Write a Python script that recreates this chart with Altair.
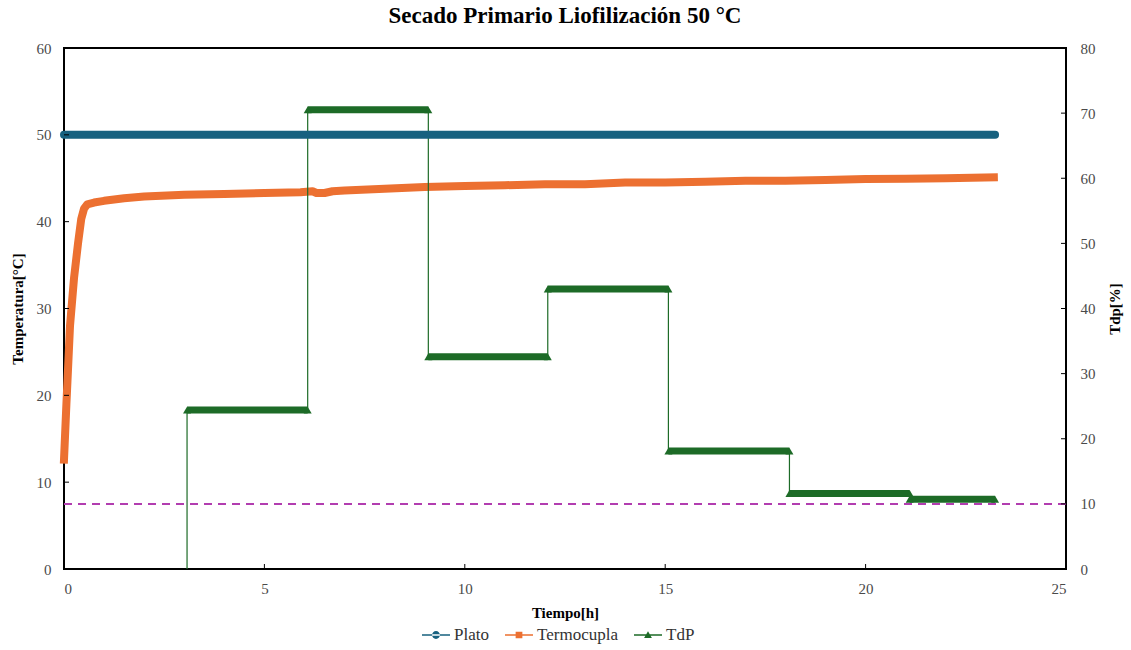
import altair as alt
import pandas as pd

# ---------------- data ----------------
series = ["Plato", "Termocupla", "TdP"]
colors = ["#17617F", "#EC7031", "#1D6B27"]

plato_t = [0.0, 23.23]
plato_v = [50.0, 50.0]

termo_t = [0.0, 0.06, 0.15, 0.25, 0.35, 0.43, 0.50, 0.58, 0.75, 1.0, 1.5, 2.0, 3.0, 4.0, 5.0,
           5.9, 6.2, 6.3, 6.5, 6.7, 7.0, 8.0, 9.0, 10.0, 11.0, 12.0, 13.0, 14.0, 15.0, 16.0,
           17.0, 18.0, 19.0, 20.0, 21.0, 22.0, 23.2]
termo_v = [12.6, 19.0, 28.0, 33.5, 37.5, 40.3, 41.5, 42.0, 42.2, 42.4, 42.7, 42.9, 43.1, 43.2, 43.3,
           43.4, 43.5, 43.3, 43.3, 43.5, 43.6, 43.8, 44.0, 44.1, 44.2, 44.3, 44.3, 44.5, 44.5, 44.6,
           44.7, 44.7, 44.8, 44.9, 44.95, 45.0, 45.1]

tdp_base = 0.0
tdp_start = [3.07, 6.08, 9.09, 12.07, 15.08, 18.10, 21.10]
tdp_end = [6.08, 9.09, 12.07, 15.08, 18.10, 21.10, 23.23]
tdp_val = [24.4, 70.5, 32.6, 43.0, 18.1, 11.6, 10.7]

tdp_limit = 10.0

x_ticks = [0, 5, 10, 15, 20, 25]
left_ticks = [0, 10, 20, 30, 40, 50, 60]
right_ticks = [0, 10, 20, 30, 40, 50, 60, 70, 80]

# ---------------- tables ----------------
plato_df = pd.DataFrame({"t": plato_t, "v": plato_v})
termo_df = pd.DataFrame({"t": termo_t, "v": termo_v})
seg_df = pd.DataFrame({"t": tdp_start, "t2": tdp_end, "v": tdp_val})

path_t, path_v = [tdp_start[0]], [tdp_base]
for s, e, v in zip(tdp_start, tdp_end, tdp_val):
    path_t += [s, e]
    path_v += [v, v]
path_df = pd.DataFrame({"t": path_t, "v": path_v, "o": list(range(len(path_t)))})
ends_df = pd.DataFrame({"t": tdp_start + tdp_end, "v": tdp_val + tdp_val})
limit_df = pd.DataFrame({"v": [tdp_limit]})
legend_df = pd.DataFrame({"series": series,
                          "t": [plato_t[0], termo_t[0], tdp_start[0]],
                          "v": [plato_v[0], termo_v[0], tdp_base]})
lt_df = pd.DataFrame({"v": left_ticks})
rt_df = pd.DataFrame({"v": right_ticks})
xt_df = pd.DataFrame({"t": x_ticks})

# ---------------- style ----------------
FONT = "Liberation Serif"
W, H = 1002, 521
LABEL_COLOR = "#4a4a4a"

xscale = alt.Scale(domain=[0, 25], nice=False, zero=False)
lscale = alt.Scale(domain=[0, 60], nice=False)
rscale = alt.Scale(domain=[0, 80], nice=False)

xaxis = alt.Axis(title="Tiempo[h]", values=x_ticks, tickSize=0, domain=False, grid=False,
                 labelFont=FONT, labelFontSize=15, labelColor=LABEL_COLOR, labelPadding=12,
                 titleFont=FONT, titleFontSize=15, titleFontWeight="bold", titleColor="black",
                 titlePadding=9)
laxis = alt.Axis(title="Temperatura[°C]", orient="left", values=left_ticks, tickSize=0,
                 domain=False, grid=False, labelFont=FONT, labelFontSize=15,
                 labelColor=LABEL_COLOR, labelPadding=13, titleFont=FONT, titleFontSize=15,
                 titleFontWeight="bold", titleColor="black", titlePadding=11)
raxis = alt.Axis(title="Tdp[%]", orient="right", values=right_ticks, tickSize=0,
                 domain=False, grid=False, labelFont=FONT, labelFontSize=15,
                 labelColor=LABEL_COLOR, labelPadding=14, titleFont=FONT, titleFontSize=15,
                 titleFontWeight="bold", titleColor="black", titlePadding=27, titleAngle=270)


def X(field="t"):
    return alt.X(f"{field}:Q", scale=xscale, axis=xaxis)


def YL(axis=None):
    return alt.Y("v:Q", scale=lscale, axis=axis)


def YR(axis=None):
    return alt.Y("v:Q", scale=rscale, axis=axis)


termo = alt.Chart(termo_df).mark_line(color=colors[1], strokeWidth=8, strokeCap="square",
                                      strokeJoin="round").encode(x=X(), y=YL(laxis))

tdp_thin = alt.Chart(path_df).mark_line(color=colors[2], strokeWidth=1.2).encode(
    x=X(), y=YR(raxis), order="o:Q")

tdp_thick = alt.Chart(seg_df).mark_rule(color=colors[2], strokeWidth=7).encode(
    x=X(), x2="t2:Q", y=YR())

tdp_tri = alt.Chart(ends_df).mark_point(shape="triangle-up", filled=True, size=64,
                                        color=colors[2], opacity=1).encode(x=X(), y=YR())

limit = alt.Chart(limit_df).mark_rule(color="#B23DB0", strokeWidth=2, strokeDash=[8, 6]).encode(
    y=YR())

plato = alt.Chart(plato_df).mark_line(color=colors[0], strokeWidth=8, strokeCap="round").encode(
    x=X(), y=YL())

paths = [
    "M-1,-0.05L1,-0.05L1,0.05L-1,0.05Z M-0.28,0A0.28,0.28 0 1,0 0.28,0A0.28,0.28 0 1,0 -0.28,0Z",
    "M-1,-0.05L1,-0.05L1,0.05L-1,0.05Z M-0.24,-0.24L0.24,-0.24L0.24,0.24L-0.24,0.24Z",
    "M-1,-0.05L1,-0.05L1,0.05L-1,0.05Z M0,-0.27L0.28,0.21L-0.28,0.21Z",
]
leg = dict(title=None, orient="none", legendX=358, legendY=573, direction="horizontal",
           symbolSize=784, symbolOpacity=1, symbolStrokeWidth=0, labelFont=FONT,
           labelFontSize=17, labelColor="#333333", labelOffset=4, columnPadding=16)
legend_layer = alt.Chart(legend_df).mark_point(filled=True, opacity=0, size=1).encode(
    x=X(), y=YL(),
    color=alt.Color("series:N", scale=alt.Scale(domain=series, range=colors),
                    legend=alt.Legend(**leg)),
    shape=alt.Shape("series:N", scale=alt.Scale(domain=series, range=paths),
                    legend=alt.Legend(**leg)),
)

lticks = alt.Chart(lt_df).mark_rule(color="black", strokeWidth=1).encode(
    y=YL(), x=alt.value(0), x2=alt.value(5))
rticks = alt.Chart(rt_df).mark_rule(color="black", strokeWidth=1).encode(
    y=YR(), x=alt.value(W - 5), x2=alt.value(W))
xticks = alt.Chart(xt_df).mark_rule(color="black", strokeWidth=1).encode(
    x=X(), y=alt.value(H - 5), y2=alt.value(H))

chart = alt.layer(
    termo, tdp_thin, tdp_thick, tdp_tri, limit, plato, legend_layer, lticks, rticks, xticks
).resolve_scale(
    y="independent", color="independent", shape="independent"
).properties(
    width=W, height=H,
    background="white",
    autosize=alt.AutoSizeParams(type="none"),
    padding={"left": 64, "top": 48, "right": 65, "bottom": 81},
    title=alt.TitleParams("Secado Primario Liofilización 50 °C", font=FONT, fontSize=23,
                          fontWeight="bold", color="black", anchor="middle", offset=13),
).configure_axis(
    labelFont=FONT, titleFont=FONT
).configure_legend(
    labelFont=FONT
).configure_view(
    stroke="black", strokeWidth=2
)

chart.save("out.html", embed_options={"renderer": "svg", "actions": False})
